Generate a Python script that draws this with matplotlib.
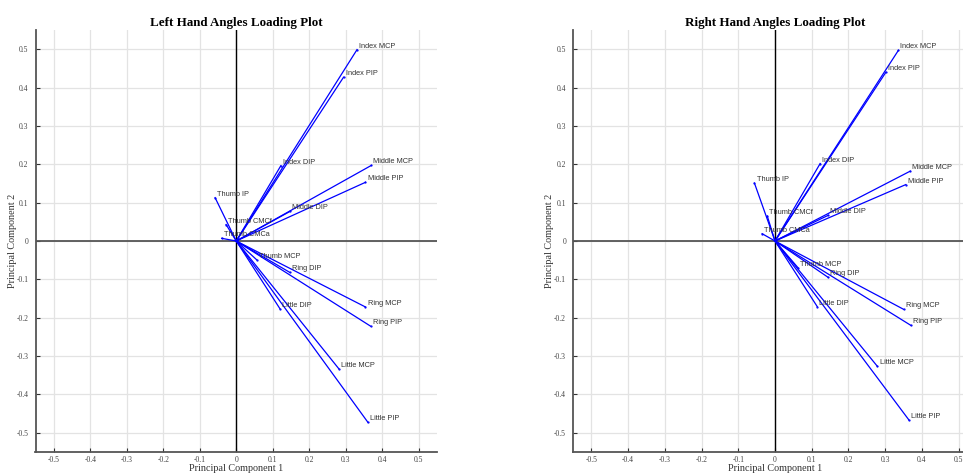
import matplotlib
matplotlib.use("Agg")
import matplotlib.pyplot as plt
import numpy as np

# nombres de las variables
names = ["Index MCP", "Index PIP", "Index DIP", "Middle MCP", "Middle PIP", "Middle DIP",
         "Thumb IP", "Thumb CMCf", "Thumb CMCa", "Thumb MCP", "Ring DIP", "Ring MCP",
         "Ring PIP", "Little DIP", "Little MCP", "Little PIP"]

# cargas mano izquierda
left_pc1 = [0.331, 0.294, 0.122, 0.370, 0.354, 0.147, -0.058, -0.028, -0.040, 0.056,
            0.147, 0.354, 0.368, 0.120, 0.281, 0.361]
left_pc2 = [0.499, 0.427, 0.196, 0.197, 0.153, 0.077, 0.113, 0.043, 0.007, -0.049,
            -0.082, -0.172, -0.222, -0.177, -0.333, -0.473]

# cargas mano derecha
right_pc1 = [0.336, 0.302, 0.123, 0.368, 0.356, 0.145, -0.056, -0.021, -0.035, 0.063,
             0.145, 0.350, 0.370, 0.115, 0.279, 0.365]
right_pc2 = [0.497, 0.440, 0.202, 0.182, 0.147, 0.067, 0.151, 0.065, 0.019, -0.070,
             -0.095, -0.178, -0.220, -0.171, -0.327, -0.467]

ticks = [-0.5, -0.4, -0.3, -0.2, -0.1, 0, 0.1, 0.2, 0.3, 0.4, 0.5]
tick_labels = ["-0.5", "-0.4", "-0.3", "-0.2", "-0.1", "0", "0.1", "0.2", "0.3", "0.4", "0.5"]

serif = "Liberation Serif"
sans = "Liberation Sans"


# grafica de cargas de una mano
def loading_plot(ax, pc1, pc2, title):
  ax.set_xlim(-0.55, 0.55)
  ax.set_ylim(-0.55, 0.55)
  ax.set_xticks(ticks)
  ax.set_yticks(ticks)
  ax.set_xticklabels(tick_labels, fontfamily=serif, fontsize=5.5, color="#444444")
  ax.set_yticklabels(tick_labels, fontfamily=serif, fontsize=5.5, color="#444444")
  ax.tick_params(direction="in", length=3, width=0.8, color="#333333")
  ax.tick_params(axis="x", pad=3)
  ax.tick_params(axis="y", pad=5)
  ax.grid(True, color="#e3e3e3", linewidth=0.9)
  ax.set_axisbelow(True)
  for s in ["top", "right"]:
    ax.spines[s].set_visible(False)
  for s in ["left", "bottom"]:
    ax.spines[s].set_color("#555555")
    ax.spines[s].set_linewidth(1.3)

  # ejes en cero
  ax.axvline(0, color="black", linewidth=1.0, zorder=2)
  ax.axhline(0, color="#555555", linewidth=1.3, zorder=2)

  # vectores de carga
  for name, x, y in zip(names, pc1, pc2):
    ax.plot([0, x], [0, y], color="blue", linewidth=0.9, zorder=3)
    ax.plot([x], [y], marker=".", color="blue", markersize=1.2, zorder=3)
    ax.annotate(name, (x, y), xytext=(1.5, 2.5), textcoords="offset points",
                ha="left", va="center", fontsize=5.3, fontfamily=sans, color="#333333",
                zorder=4)

  ax.set_title(title, fontfamily=serif, fontweight="bold", fontsize=9.4, pad=3)
  ax.set_xlabel("Principal Component 1", fontfamily=serif, fontsize=7.3, color="#333333",
                labelpad=0)
  ax.set_ylabel("Principal Component 2", fontfamily=serif, fontsize=7.3, color="#333333",
                labelpad=0)


fig = plt.figure(figsize=(9.63, 4.74), dpi=100)
ax1 = fig.add_axes([35.5 / 963, 22 / 474, 401.5 / 963, 422 / 474])
ax2 = fig.add_axes([573 / 963, 22 / 474, 404 / 963, 422 / 474])

loading_plot(ax1, left_pc1, left_pc2, "Left Hand Angles Loading Plot")
loading_plot(ax2, right_pc1, right_pc2, "Right Hand Angles Loading Plot")

fig.savefig("out.png", dpi=100)
plt.close(fig)
